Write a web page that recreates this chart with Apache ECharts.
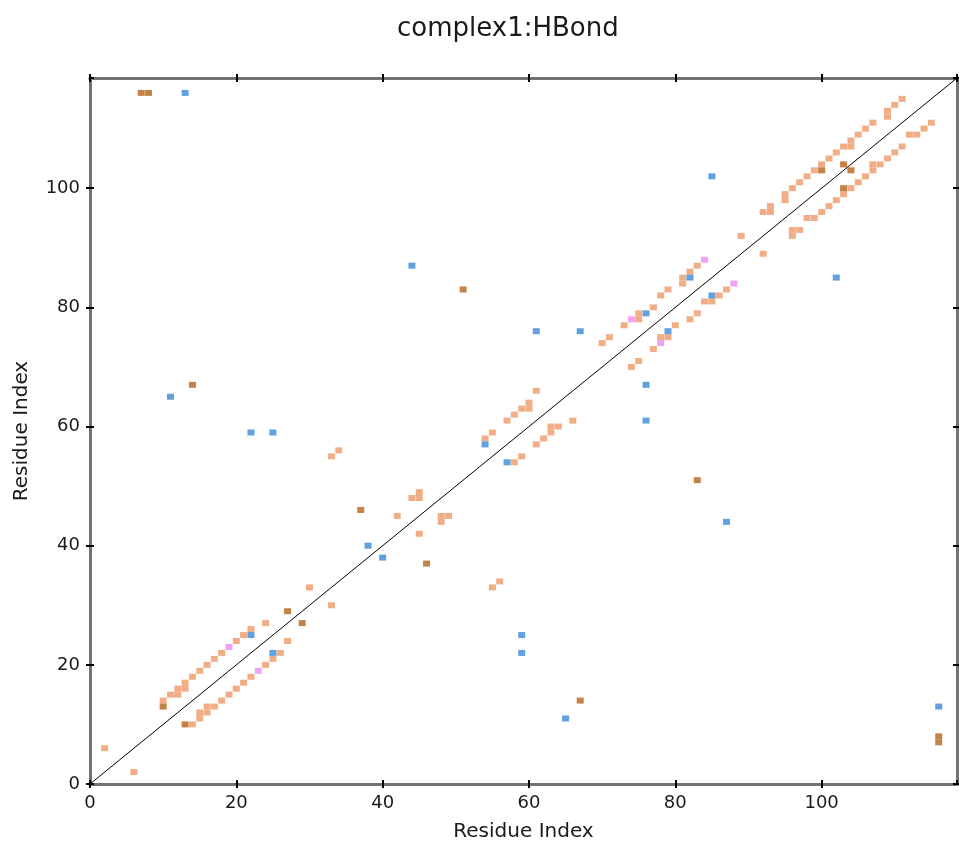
<!DOCTYPE html>
<html>
<head>
<meta charset="utf-8">
<script src="https://cdn.jsdelivr.net/npm/echarts@6/dist/echarts.min.js"></script>
<style>
  html, body { margin: 0; padding: 0; background: #fff; }
  #main { width: 959px; height: 847px; }
</style>
</head>
<body>
<div id="main"></div>
<script>
// residue pairs [donor, acceptor]
const salmonPts = [
  [2, 6], [6, 2],
  [10, 14], [11, 15], [12, 15], [12, 16], [13, 16], [13, 17], [14, 18], [15, 19], [16, 20], [17, 21],
  [18, 22], [20, 24], [21, 25], [22, 26], [24, 27], [30, 33],
  [14, 10], [15, 11], [15, 12], [16, 12], [16, 13], [17, 13], [18, 14], [19, 15], [20, 16], [21, 17],
  [22, 18], [24, 20], [25, 21], [26, 22], [27, 24], [33, 30],
  [33, 55], [34, 56], [55, 33], [56, 34],
  [42, 45], [44, 48], [45, 48], [45, 49], [45, 42], [48, 44], [48, 45], [49, 45],
  [54, 58], [55, 59], [57, 61], [58, 62], [59, 63], [60, 63], [60, 64], [61, 66],
  [58, 54], [59, 55], [61, 57], [62, 58], [63, 59], [63, 60], [64, 60], [66, 61],
  [70, 74], [71, 75], [73, 77], [75, 78], [75, 79], [77, 80], [78, 82], [79, 83], [81, 84], [81, 85], [82, 86], [83, 87],
  [74, 70], [75, 71], [77, 73], [78, 75], [79, 75], [80, 77], [82, 78], [83, 79], [84, 81], [85, 81], [86, 82], [87, 83],
  [89, 92], [92, 89],
  [92, 96], [93, 96], [93, 97], [95, 98], [95, 99], [96, 100], [97, 101], [98, 102], [99, 103], [100, 104],
  [101, 105], [102, 106], [103, 107], [104, 107], [104, 108], [105, 109], [106, 110], [107, 111],
  [109, 112], [109, 113], [110, 114], [111, 115],
  [96, 92], [96, 93], [97, 93], [98, 95], [99, 95], [100, 96], [101, 97], [102, 98], [103, 99], [104, 100],
  [105, 101], [106, 102], [107, 103], [107, 104], [108, 104], [109, 105], [110, 106], [111, 107],
  [112, 109], [113, 109], [114, 110], [115, 111]
]
const brownPts = [
  [7, 116], [8, 116], [14, 67], [51, 83], [37, 46], [46, 37], [10, 13], [13, 10], [27, 29], [29, 27],
  [67, 14], [83, 51], [100, 103], [103, 104], [104, 103], [103, 100], [116, 8], [116, 7]
]
const bluePts = [
  [13, 116], [11, 65], [22, 59], [25, 59], [44, 87], [38, 40], [40, 38], [54, 57], [57, 54], [61, 76],
  [67, 76], [59, 25], [59, 22], [65, 11], [76, 67], [76, 61], [76, 79], [79, 76], [82, 85], [85, 82],
  [85, 102], [102, 85], [87, 44], [116, 13], [22, 25], [25, 22]
]
const pinkPts = [[19, 23], [23, 19], [74, 78], [78, 74], [84, 88], [88, 84]]
const diagonal = [[0, 0], [118.5, 118.5]]

const axisMin = 0
const axisMax = 118.5
const tickStep = 20
const font = 'DejaVu Sans'

function makeAxis (position, inside, withLabel, name) {
  const ax = {
    type: 'value',
    position: position,
    min: axisMin,
    max: axisMax,
    interval: tickStep,
    splitLine: { show: false },
    axisLine: { show: true, onZero: false, lineStyle: { color: '#737373', width: 3 } },
    axisTick: { show: true, inside: inside, length: 4, lineStyle: { color: '#000', width: 2 } },
    axisLabel: {
      show: withLabel,
      margin: 10,
      fontSize: 18,
      fontFamily: font,
      color: '#1a1a1a',
      showMaxLabel: false,
      formatter: v => (v % tickStep === 0 ? String(v) : '')
    }
  }
  if (name) {
    ax.name = name
    ax.nameLocation = 'middle'
    ax.nameTextStyle = { fontSize: 20, fontFamily: font, color: '#1a1a1a' }
  }
  return ax
}

const xAxes = [
  makeAxis('bottom', false, true, 'Residue Index'),
  makeAxis('bottom', true, false),
  makeAxis('top', false, false),
  makeAxis('top', true, false)
]
xAxes[0].nameGap = 38
const yAxes = [
  makeAxis('left', false, true, 'Residue Index'),
  makeAxis('left', true, false),
  makeAxis('right', false, false),
  makeAxis('right', true, false)
]
yAxes[0].nameGap = 58

function dots (name, data, color) {
  return {
    name: name,
    type: 'scatter',
    symbol: 'rect',
    symbolSize: [7, 6],
    itemStyle: { color: color },
    data: data
  }
}

const option = {
  backgroundColor: '#fff',
  animation: false,
  title: {
    text: 'complex1:HBond',
    left: 392,
    top: 11,
    textStyle: { fontSize: 26, fontWeight: 'normal', fontFamily: font, color: '#1a1a1a' }
  },
  grid: { left: 90, right: 2, top: 78, bottom: 59, containLabel: false },
  xAxis: xAxes,
  yAxis: yAxes,
  series: [
    {
      type: 'line',
      data: diagonal,
      symbol: 'none',
      lineStyle: { color: '#000', width: 1 },
      silent: true
    },
    dots('salmon', salmonPts, '#ee9a68'),
    dots('brown', brownPts, '#b5631c'),
    dots('pink', pinkPts, '#ee8aee'),
    dots('blue', bluePts, '#3a8ad8')
  ]
}

const chart = echarts.init(document.getElementById('main'))
chart.setOption(option)
</script>
</body>
</html>
